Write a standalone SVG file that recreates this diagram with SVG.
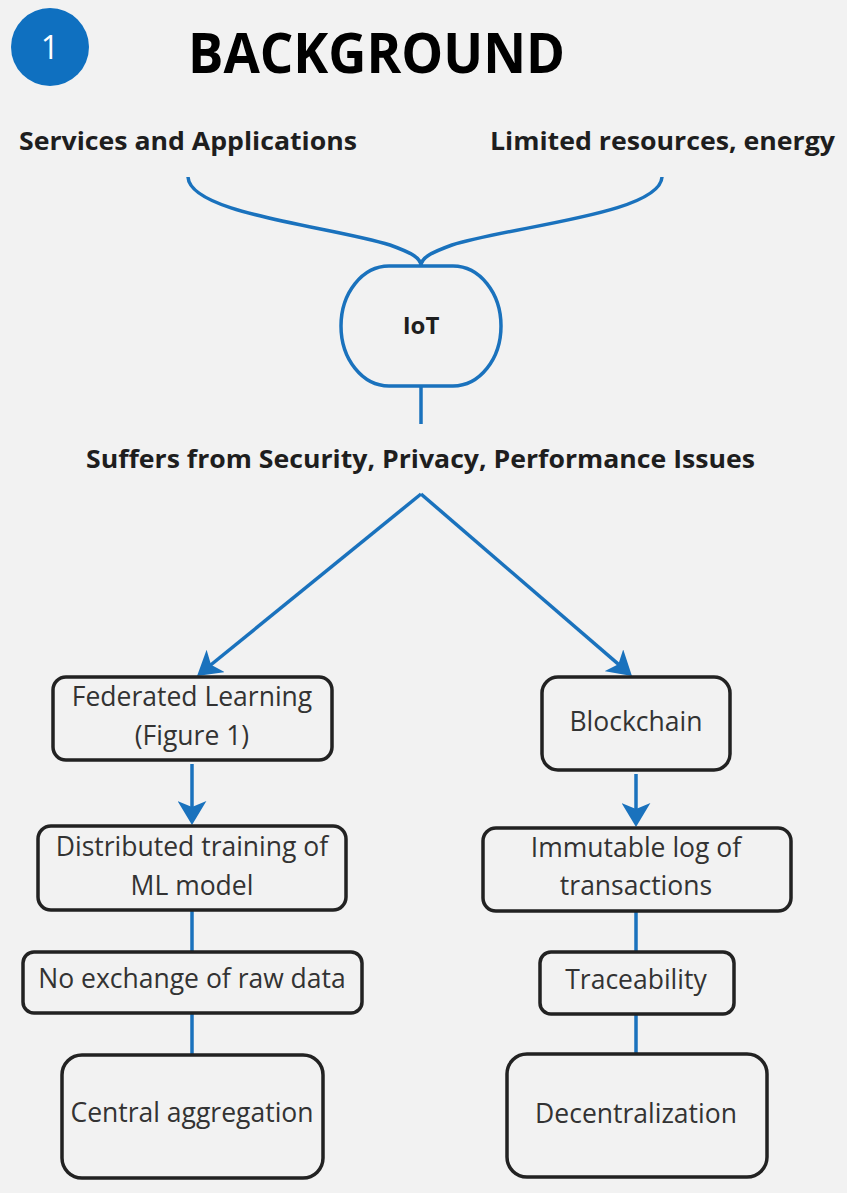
<svg xmlns="http://www.w3.org/2000/svg" width="847" height="1193" viewBox="0 0 847 1193">
<style>
.bg{fill:#f2f2f2}
.box{fill:none;stroke:#222;stroke-width:3.5}
.blue{fill:none;stroke:#1a72bd;stroke-width:3.5}
.hdr{font-family:"Open Sans","Noto Sans",sans-serif;font-weight:700;fill:#1e1e1e;font-size:25px}
.lbl{font-family:"Open Sans","Noto Sans",sans-serif;font-size:26.5px;fill:#333;text-anchor:middle}
</style>
<defs>
<marker id="ah" viewBox="0 0 10 12" refX="6" refY="6" markerWidth="24" markerHeight="29" markerUnits="userSpaceOnUse" orient="auto">
<path d="M0,0 L10,6 L0,12 L2.5,6 z" fill="#1a72bd"/>
</marker>
</defs>
<rect class="bg" x="0" y="0" width="847" height="1193"/>

<g id="badge">
<circle cx="50" cy="47" r="39" fill="#0f70c0"/>
<text x="50" y="59" font-family="Open Sans, sans-serif" font-size="32" fill="#fff" text-anchor="middle">1</text>
</g>
<g id="title">
<text x="188" y="73" font-family="Open Sans, sans-serif" font-weight="700" font-size="56" fill="#000" textLength="377" lengthAdjust="spacingAndGlyphs">BACKGROUND</text>
</g>

<g id="services"><text class="hdr" x="19" y="150" textLength="338" lengthAdjust="spacingAndGlyphs">Services and Applications</text></g>
<g id="limited"><text class="hdr" x="490" y="150" textLength="345" lengthAdjust="spacingAndGlyphs">Limited resources, energy</text></g>

<g id="connectors">
<path class="blue" d="M188,177 C190,214 330,226 390,245 C412,253 421,258 421,266"/>
<path class="blue" d="M662,177 C660,214 512,226 452,245 C430,253 421,258 421,266"/>
<line class="blue" x1="421" y1="386" x2="421" y2="424"/>
<line class="blue" x1="421" y1="494" x2="204.5" y2="670" marker-end="url(#ah)"/>
<line class="blue" x1="421" y1="494" x2="624.7" y2="669.7" marker-end="url(#ah)"/>
<line class="blue" x1="192" y1="764" x2="192" y2="815.4" marker-end="url(#ah)"/>
<line class="blue" x1="636" y1="774" x2="636" y2="817.4" marker-end="url(#ah)"/>
<line class="blue" x1="192" y1="910" x2="192" y2="952"/>
<line class="blue" x1="192" y1="1013" x2="192" y2="1055"/>
<line class="blue" x1="636" y1="911" x2="636" y2="952"/>
<line class="blue" x1="636" y1="1014" x2="636" y2="1054"/>
</g>

<g id="iot">
<rect class="blue" x="341" y="266" width="160" height="120" rx="48" ry="60"/>
<text x="421" y="334" font-family="Open Sans, sans-serif" font-weight="700" font-size="24" fill="#1e1e1e" text-anchor="middle">IoT</text>
</g>

<g id="suffers"><text class="hdr" x="86" y="468" textLength="669" lengthAdjust="spacingAndGlyphs">Suffers from Security, Privacy, Performance Issues</text></g>

<g id="fl">
<rect class="box" x="53" y="677" width="279" height="83" rx="13"/>
<text class="lbl" x="192" y="706">Federated Learning</text>
<text class="lbl" x="192" y="745">(Figure 1)</text>
</g>
<g id="dist">
<rect class="box" x="38" y="826" width="308" height="84" rx="13"/>
<text class="lbl" x="192" y="856">Distributed training of</text>
<text class="lbl" x="192" y="895">ML model</text>
</g>
<g id="noex">
<rect class="box" x="23" y="952" width="339" height="61" rx="11"/>
<text class="lbl" x="192" y="988">No exchange of raw data</text>
</g>
<g id="central">
<rect class="box" x="62" y="1055" width="261" height="123" rx="20"/>
<text class="lbl" x="192" y="1122">Central aggregation</text>
</g>

<g id="bc">
<rect class="box" x="542" y="677" width="188" height="93" rx="16"/>
<text class="lbl" x="636" y="731">Blockchain</text>
</g>
<g id="imm">
<rect class="box" x="483" y="828" width="308" height="83" rx="13"/>
<text class="lbl" x="636" y="857">Immutable log of</text>
<text class="lbl" x="636" y="895">transactions</text>
</g>
<g id="trace">
<rect class="box" x="540" y="952" width="194" height="62" rx="11"/>
<text class="lbl" x="636" y="989">Traceability</text>
</g>
<g id="decent">
<rect class="box" x="507" y="1054" width="260" height="123" rx="20"/>
<text class="lbl" x="636" y="1123">Decentralization</text>
</g>
</svg>
